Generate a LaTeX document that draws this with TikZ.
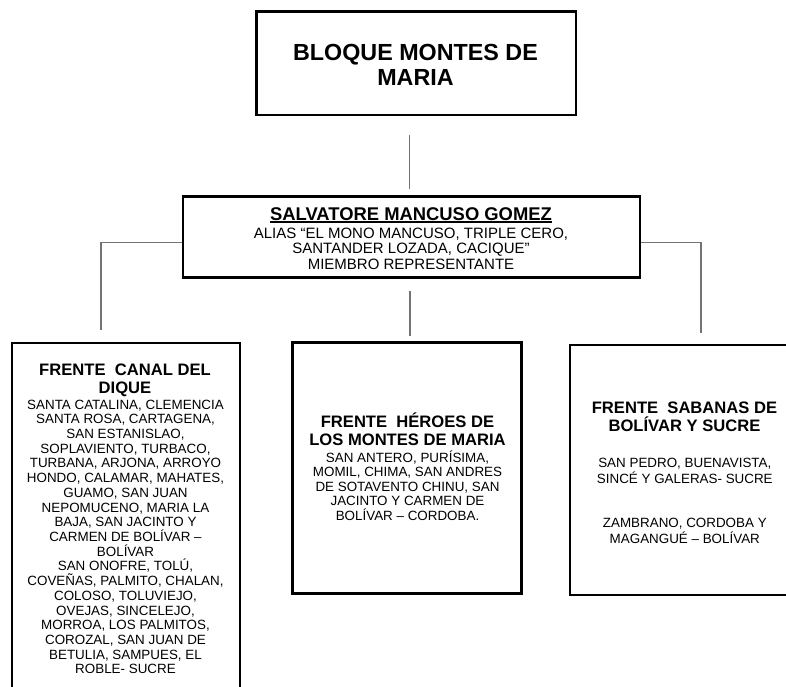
\documentclass[tikz,border=0pt]{standalone}
\usepackage{fontspec}
\setmainfont{Liberation Sans}
\newcommand{\mystrut}{\rule{0pt}{1em}}
\newcommand{\tightlines}{\lineskiplimit=-100pt\relax}
\newcommand{\fsz}[2]{\fontsize{#1}{#2}\selectfont\tightlines}
\tikzset{
  box/.style={draw=black, line width=2.6pt, inner sep=0pt, minimum width=#1},
  conn/.style={draw=black!55, line width=1.1pt},
  txt/.style={inner sep=0pt, outer sep=0pt, align=center, anchor=north, text=black},
}
\begin{document}
\begin{tikzpicture}[x=1pt,y=-1pt]
\useasboundingbox (0,0) rectangle (786,686);
\clip (0,0) rectangle (786,686);
\fill[white] (0,0) rectangle (786,686);

% boxes
\node[box=319.5pt, minimum height=103.5pt] (bloque) at (416.25,63.25) {};
\node[box=457pt, minimum height=81pt] (mancuso) at (411.5,237) {};
\node[box=228pt, minimum height=357pt] (canal) at (126,521.5) {};
\node[box=229pt, minimum height=251pt] (heroes) at (407,468) {};
\node[box=230pt, minimum height=250pt] (sabanas) at (685,470) {};

% texts
\node[txt, font=\bfseries\fsz{23.3}{25}] (t1) at (415.5,36.7) {\mystrut BLOQUE MONTES DE\\MARIA};

\node[inner sep=0pt, anchor=base, font=\bfseries\fsz{18.4}{20}] (name) at (411,220) {SALVATORE MANCUSO GOMEZ};
\draw[line width=1.4pt] ([yshift=-2pt]name.base west) -- ([yshift=-2pt]name.base east);
\node[txt, font=\fsz{15}{15.5}] (alias) at (411,223.3) {\mystrut ALIAS “EL MONO MANCUSO, TRIPLE CERO,\\SANTANDER LOZADA, CACIQUE”\\MIEMBRO REPRESENTANTE};

\node[txt, font=\bfseries\fsz{16.6}{18}] (canalh) at (125,358.4) {\mystrut FRENTE~ CANAL DEL\\DIQUE};
\node[txt, font=\fsz{13.4}{14.72}] (canalb) at (125.5,395.6) {\mystrut SANTA CATALINA, CLEMENCIA\\SANTA ROSA, CARTAGENA,\\SAN ESTANISLAO,\\SOPLAVIENTO, TURBACO,\\TURBANA, ARJONA, ARROYO\\HONDO, CALAMAR, MAHATES,\\GUAMO, SAN JUAN\\NEPOMUCENO, MARIA LA\\BAJA, SAN JACINTO Y\\CARMEN DE BOLÍVAR –\\BOLÍVAR\\SAN ONOFRE, TOLÚ,\\COVEÑAS, PALMITO, CHALAN,\\COLOSO, TOLUVIEJO,\\OVEJAS, SINCELEJO,\\MORROA, LOS PALMITOS,\\COROZAL, SAN JUAN DE\\BETULIA, SAMPUES, EL\\ROBLE- SUCRE};

\node[txt, font=\bfseries\fsz{16.6}{18}] (heroesh) at (407.5,410.4) {\mystrut FRENTE~ HÉROES DE\\LOS MONTES DE MARIA};
\node[txt, font=\fsz{13.4}{14.6}] (heroesb) at (407.5,448.6) {\mystrut SAN ANTERO, PURÍSIMA,\\MOMIL, CHIMA, SAN ANDRES\\DE SOTAVENTO CHINU, SAN\\JACINTO Y CARMEN DE\\BOLÍVAR – CORDOBA.};

\node[txt, font=\bfseries\fsz{16.6}{18}] (sabanash) at (684.5,396.4) {\mystrut FRENTE~ SABANAS DE\\BOLÍVAR Y SUCRE};
\node[txt, font=\fsz{13.4}{16.7}] (sabanasb1) at (684.8,453.6) {\mystrut SAN PEDRO, BUENAVISTA,\\SINCÉ Y GALERAS- SUCRE};
\node[txt, font=\fsz{13.4}{16.7}] (sabanasb2) at (684.8,513.6) {\mystrut ZAMBRANO, CORDOBA Y\\MAGANGUÉ – BOLÍVAR};

% connectors
\coordinate (lend) at (101,330);
\coordinate (rend) at (701,333);
\draw[conn, shorten <=19pt, shorten >=6.5pt] ([xshift=-6.55pt]bloque.south) -- ([xshift=-6.55pt]bloque.south |- mancuso.north);
\draw[conn] ([yshift=-5.7pt]mancuso.west) -| (lend);
\draw[conn] ([yshift=-5.3pt]mancuso.east) -| (rend);
\draw[conn, shorten <=12.5pt, shorten >=5.5pt] ([xshift=-1.5pt]mancuso.south) -- ([xshift=-1.5pt]mancuso.south |- heroes.north);
\end{tikzpicture}
\end{document}
